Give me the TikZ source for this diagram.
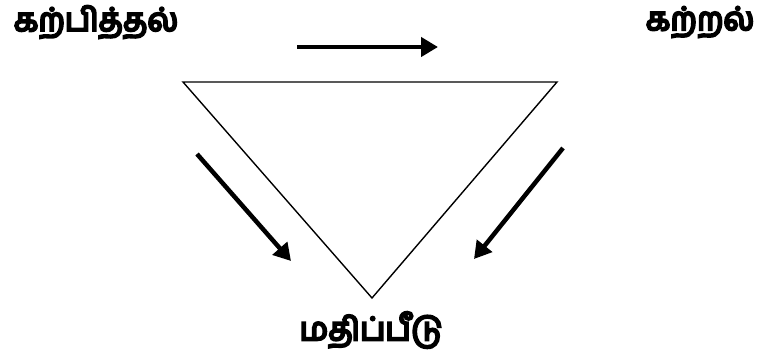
\documentclass[tikz,border=0pt]{standalone}
\usepackage{fontspec}
\usepackage{tikz}
\usetikzlibrary{arrows.meta,positioning}
\newfontfamily\tamilfont[Script=Tamil, FakeBold=7]{Hind Madurai}

\begin{document}
\begin{tikzpicture}[
  x=1pt, y=-1pt,
  word/.style={font=\tamilfont\fontsize{32}{36}\selectfont, inner sep=0pt},
  flow/.style={-{Triangle[length=17pt, width=19pt]}, line width=4.5pt},
  tri/.style={draw, line width=1.4pt, line join=miter}
]
\useasboundingbox (0,0) rectangle (764,358);
\node[word] (teach) at (96,22) {கற்பித்தல்};
\node[word] (learn) at (700,22) {கற்றல்};
\node[word] (assess) at (371,330) {மதிப்பீடு};
\coordinate (t1) at (183,82);
\coordinate (t2) at (557,82);
\coordinate (t3) at (372,298);
\draw[tri] (t1) -- (t2) -- (t3) -- cycle;
\coordinate (a1) at (297,47);
\coordinate (a2) at (438,47);
\coordinate (b1) at (197,154);
\coordinate (b2) at (291,261);
\coordinate (c1) at (563,148);
\coordinate (c2) at (474,259);
\draw[flow] (a1) -- (a2);
\draw[flow] (b1) -- (b2);
\draw[flow] (c1) -- (c2);
\end{tikzpicture}
\end{document}
